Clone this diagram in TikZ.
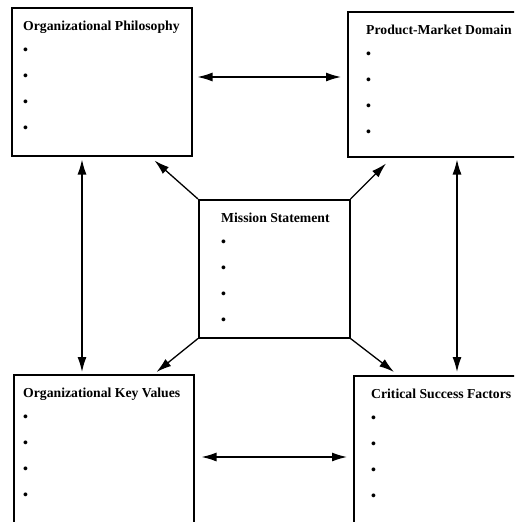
\documentclass[tikz,border=0pt]{standalone}
\usepackage{fontspec}
\setmainfont{Liberation Serif}
\usetikzlibrary{positioning}
\usetikzlibrary{calc}
\usetikzlibrary{arrows.meta}

\tikzset{
  panel/.style={draw, line width=1.5pt, anchor=north west, minimum width=180pt, minimum height=148pt, inner sep=0pt},
  heading/.style={anchor=base west, inner sep=0pt, font=\fontsize{13.7}{16}\selectfont\bfseries},
  bulletmark/.style={anchor=base west, inner sep=0pt, font=\fontsize{14}{16}\selectfont\bfseries},
  twoway/.style={line width=1.3pt, {Latex[length=15pt,width=9pt]}-{Latex[length=15pt,width=9pt]}},
  oneway/.style={line width=1.3pt, -{Latex[length=15pt,width=9pt]}},
}

\begin{document}
\begin{tikzpicture}[x=1pt,y=-1pt]
  \clip (0,0) rectangle (514,522);
  \node[panel] (phil) at (11,7) {};
  \node[panel, minimum height=145pt] (market) at (347,11) {};
  \node[panel, minimum width=151pt, minimum height=138pt] (mission) at (198,199) {};
  \node[panel, minimum height=160pt] (values) at (13,374) {};
  \node[panel, minimum height=160pt] (factors) at (353,375) {};

  % titles and bullets
  \foreach \bx/\txt/\dx in {phil/Organizational Philosophy/12, market/Product-Market Domain/19, mission/Mission Statement/23, values/Organizational Key Values/10, factors/Critical Success Factors/18}{
    \node[heading] (\bx-title) at ($(\bx.north west)+(\dx,23)$) {\txt};
    \foreach \k in {1,...,4}
      \node[bulletmark] (\bx-\k) at ($(\bx.north west)+(\dx,21.5+26*\k)$) {\textbullet};
  }

  \draw[twoway] ($(phil.north east)+(5,70)$) -- ($(market.north west)+(-6,66)$);
  \draw[twoway] ($(values.north east)+(7,83)$) -- ($(factors.north west)+(-6,82)$);
  \draw[twoway] ($(phil.south west)+(71,3)$) -- ($(values.north west)+(69,-2)$);
  \draw[twoway] ($(market.south west)+(110,2)$) -- ($(factors.north west)+(104,-3)$);

  \draw[oneway] (mission.north west) -- ($(phil.south east)+(-38,4)$);
  \draw[oneway] (mission.north east) -- ($(market.south west)+(39,6)$);
  \draw[oneway] (mission.south west) -- ($(values.north east)+(-38,-2)$);
  \draw[oneway] (mission.south east) -- ($(factors.north west)+(41,-3)$);
\end{tikzpicture}
\end{document}
